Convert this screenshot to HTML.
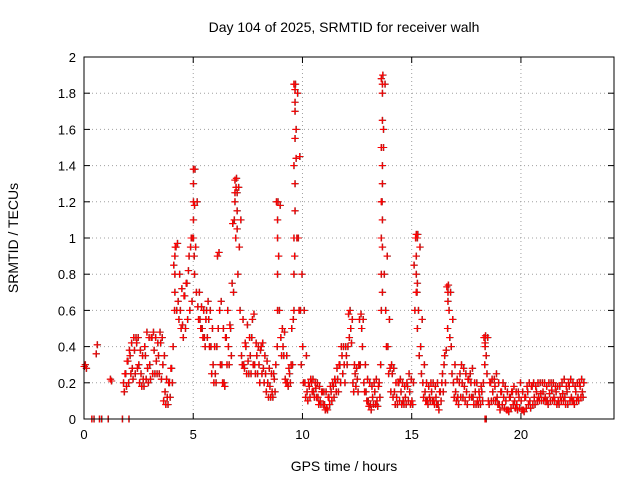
<!DOCTYPE html>
<html><head><meta charset="utf-8"><style>
body{margin:0;background:#fff}
svg{display:block;font-family:"Liberation Sans",sans-serif}
</style></head><body>
<svg id="chart" width="640" height="480" xmlns="http://www.w3.org/2000/svg">
<rect width="640" height="480" fill="#fff"/>
<text x="344" y="32" font-size="14" text-anchor="middle">Day 104 of 2025, SRMTID for receiver walh</text>
<text x="18" y="238" font-size="14" text-anchor="middle" transform="rotate(-90 18 238)">SRMTID / TECUs</text>
<text x="344" y="471" font-size="14" text-anchor="middle">GPS time / hours</text>
<g id="grid"></g><g id="ticks"></g><g id="marks"></g>
<rect x="84" y="57" width="530" height="362" fill="none" stroke="#000"/>
</svg>
<script>
const xTicks=[0,5,10,15,20];
const yTicks=[0,0.2,0.4,0.6,0.8,1,1.2,1.4,1.6,1.8,2];
const yTickLabels=["0","0.2","0.4","0.6","0.8","1","1.2","1.4","1.6","1.8","2"];
const sparseTimes=[0,0.05,0.1,0.35,0.45,0.7,0.8,1.1,1.75,2.05,0.55,0.6,1.2,1.25,18.35,18.4];
const sparseValues=[0.29,0.30,0.28,0,0,0,0,0,0,0,0.36,0.41,0.22,0.21,0,0];
const denseStart=1.8, denseStep=0.1;
const denseValues=[.2,.25,.32,.35,.28,.38,.42,.3,.25,.22,.35,.28,
.3,.45,.38,.32,.35,.42,.3,.15,.12,.2,
.28,.85,.95,.65,.6,.52,.68,.75,.9,1.0,
1.38,.95,.62,.55,.5,.45,.6,.55,.4,.3,
.25,.9,.6,.3,.2,.45,.4,.5,1.08,1.32,
1.05,.95,.35,.3,.4,.32,.35,.55,.3,.35,
.3,.4,.28,.25,.2,.18,.15,.22,1.2,.9,
.45,.4,.22,.2,.25,.5,1.85,1.6,1.0,.6,
.4,.2,.15,.18,.2,.15,.17,.12,.1,.15,
.08,.06,.12,.15,.18,.2,.22,.3,.35,.3,
.35,.58,.5,.2,.25,.22,.55,.5,.2,.15,
.1,.08,.12,.15,.1,.2,1.88,1.5,.6,.4,
.28,.25,.15,.12,.2,.15,.1,.12,.18,.15,
.1,.85,1.02,.6,.4,.2,.15,.1,.12,.15,
.1,.12,.08,.15,.25,.35,.73,.6,.4,.2,
.15,.12,.25,.2,.18,.15,.22,.2,.12,.15,
.1,.12,.15,.45,.35,.1,.2,.15,.18,.12,
.08,.15,.12,.1,.05,.12,.15,.1,.08,.12,
.1,.05,.12,.15,.1,.18,.12,.15,.12,.14,
.15,.12,.1,.14,.16,.12,.15,.1,.12,.14,
.12,.15,.18,.12,.1,.15,.12,.18,.15];
const binLow=[.15,.18,.2,.25,.22,.25,.28,.2,.18,.18,.22,.2,
.22,.25,.25,.25,.25,.22,.1,.08,.08,.12,
.2,.6,.6,.55,.5,.45,.5,.55,.6,.65,
.9,.7,.55,.5,.45,.4,.45,.4,.25,.2,
.2,.5,.3,.2,.18,.3,.3,.35,.7,1.0,
.8,.6,.3,.28,.25,.25,.25,.3,.25,.25,
.2,.25,.2,.15,.12,.12,.12,.15,.4,.6,
.35,.35,.2,.18,.2,.3,.9,1.0,.6,.3,
.2,.12,.1,.12,.15,.12,.12,.08,.08,.08,
.05,.05,.08,.1,.12,.15,.15,.2,.25,.2,
.3,.45,.42,.15,.18,.15,.3,.4,.15,.1,
.07,.05,.08,.08,.07,.12,1.2,.8,.4,.25,
.15,.12,.08,.08,.1,.08,.08,.08,.1,.08,
.08,.6,.7,.35,.25,.12,.1,.08,.1,.1,
.08,.08,.05,.1,.15,.2,.5,.45,.25,.12,
.1,.08,.12,.12,.1,.08,.12,.12,.08,.08,
.08,.08,.1,.3,.25,.08,.1,.1,.1,.08,
.05,.08,.06,.05,.04,.06,.08,.06,.05,.06,
.05,.04,.06,.08,.06,.08,.08,.1,.1,.1,
.1,.1,.08,.1,.1,.1,.08,.08,.1,.1,
.08,.08,.1,.1,.08,.1,.1,.12,.12];
const binHigh=[.25,.32,.38,.42,.45,.45,.45,.38,.35,.4,.48,.45,
.45,.48,.45,.42,.48,.45,.35,.22,.2,.28,
.4,.95,.97,.8,.72,.68,.75,.82,.95,1.0,
1.38,1.2,.7,.62,.6,.55,.65,.6,.5,.4,
.4,.92,.65,.5,.45,.6,.52,.75,1.1,1.33,
1.28,1.1,.55,.42,.52,.45,.45,.58,.42,.4,
.38,.42,.35,.32,.28,.25,.25,.3,1.2,1.18,
.5,.48,.35,.28,.3,.55,1.85,1.8,1.45,.8,
.6,.35,.2,.22,.22,.2,.2,.18,.15,.15,
.15,.12,.18,.2,.22,.28,.3,.4,.4,.4,
.4,.6,.55,.3,.28,.3,.58,.55,.3,.22,
.2,.18,.2,.22,.18,.3,1.9,1.85,.9,.55,
.3,.28,.2,.2,.22,.2,.18,.2,.25,.22,
.2,1.0,1.02,.95,.55,.3,.2,.18,.2,.2,
.18,.2,.15,.2,.3,.38,.74,.7,.55,.3,
.22,.2,.3,.28,.25,.22,.25,.28,.2,.2,
.15,.18,.2,.46,.45,.2,.22,.22,.25,.2,
.15,.2,.18,.15,.12,.15,.18,.15,.15,.2,
.15,.12,.18,.2,.18,.2,.18,.2,.2,.2,
.2,.18,.2,.2,.2,.18,.18,.18,.2,.22,
.18,.2,.22,.2,.18,.2,.2,.22,.2];
const peakTimes=[4.15,4.15,4.15,5.0,5.0,5.0,5.0,5.05,5.05,6.9,6.9,6.95,7.0,7.0,8.85,8.85,8.85,8.85,9.6,9.6,9.6,9.6,9.65,9.65,9.65,9.65,9.65,9.65,9.7,13.6,13.6,13.6,13.6,13.6,13.65,13.65,13.65,13.65,13.65,13.65,13.65,13.65,13.7,15.2,15.2,15.2,15.25,15.25,15.25,16.65,16.65,18.35,18.35];
const peakValues=[.7,.8,.9,1.0,1.1,1.2,1.3,1.18,.8,1.2,1.25,1.28,1.25,1.15,1.1,1.0,.8,.6,1.4,1.0,.8,.6,1.82,1.75,1.7,1.55,1.3,1.15,1.44,1.5,1.2,1.0,.8,.6,1.85,1.8,1.65,1.4,1.3,1.1,.95,.7,1.6,.9,.8,.7,1.0,.75,.5,.65,.7,.42,.4];
const X0=84,X1=614,XMAX=24.26,Y0=419,Y1=57,YMAX=2;
const xs=t=>X0+t/XMAX*(X1-X0);
const ys=v=>Y0-v/YMAX*(Y0-Y1);
const NS="http://www.w3.org/2000/svg";
function mk(tag,attrs,parent){const e=document.createElementNS(NS,tag);for(const k in attrs)e.setAttribute(k,attrs[k]);parent.appendChild(e);return e;}
const grid=document.getElementById('grid'),ticks=document.getElementById('ticks'),marks=document.getElementById('marks');
yTicks.forEach((v,i)=>{const y=ys(v);
 if(i>0&&i<yTicks.length-1){const g=mk('line',{x1:X0,x2:X1,y1:y,y2:y,stroke:'#a0a0a0','stroke-dasharray':'1,3'},grid);
 
 }
 mk('line',{x1:X0,x2:X0+6,y1:y,y2:y,stroke:'#000'},ticks);
 mk('line',{x1:X1,x2:X1-6,y1:y,y2:y,stroke:'#000'},ticks);
 const t=mk('text',{x:X0-8,y:y+5,'font-size':13,'text-anchor':'end'},ticks);t.textContent=yTickLabels[i];
 
 });
xTicks.forEach(v=>{const x=xs(v);
 if(v>0){const g=mk('line',{x1:x,x2:x,y1:Y1,y2:Y0,stroke:'#a0a0a0','stroke-dasharray':'1,3'},grid);
 
 }
 mk('line',{x1:x,x2:x,y1:Y0,y2:Y0-6,stroke:'#000'},ticks);
 mk('line',{x1:x,x2:x,y1:Y1,y2:Y1+6,stroke:'#000'},ticks);
 const t=mk('text',{x:x,y:Y0+20,'font-size':13,'text-anchor':'middle'},ticks);t.textContent=String(v);
 
 });
function plus(t,v,color){const x=xs(t),y=ys(v);
 const p=mk('path',{d:`M${x-3.5} ${y}H${x+3.5}M${x} ${y-3.5}V${y+3.5}`,stroke:color,'stroke-width':1.1,fill:'none'},marks);
 
 }
const allT=[],allV=[];
for(let i=0;i<Math.min(sparseTimes.length,sparseValues.length);i++){allT.push(sparseTimes[i]);allV.push(sparseValues[i]);}
denseValues.forEach((v,i)=>{allT.push(denseStart+i*denseStep);allV.push(v);});
binLow.forEach((v,i)=>{allT.push(denseStart+i*denseStep+0.035);allV.push(v);});
binHigh.forEach((v,i)=>{allT.push(denseStart+i*denseStep+0.07);allV.push(v);});
for(let i=0;i<Math.min(peakTimes.length,peakValues.length);i++){allT.push(peakTimes[i]);allV.push(peakValues[i]);}
allT.forEach((t,i)=>plus(t+0.02,allV[i],'#404040'));
allT.forEach((t,i)=>plus(t,allV[i],'#ff0000'));
</script>
</body></html>
